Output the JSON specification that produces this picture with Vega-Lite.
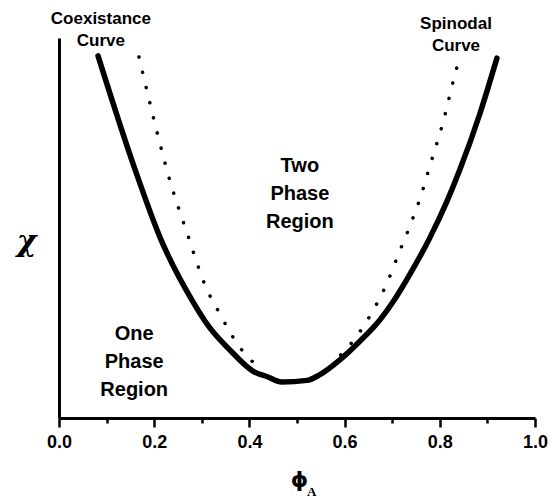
{
  "$schema": "https://vega.github.io/schema/vega-lite/v6.json",
  "width": 476,
  "height": 380,
  "autosize": "none",
  "padding": {"left": 59, "top": 38, "right": 16, "bottom": 82},
  "background": "white",
  "config": {"view": {"stroke": null}},
  "datasets": {
    "coex": [
      {"phi": 0.082, "chi": 0.953},
      {"phi": 0.160, "chi": 0.653},
      {"phi": 0.212, "chi": 0.476},
      {"phi": 0.279, "chi": 0.311},
      {"phi": 0.317, "chi": 0.237},
      {"phi": 0.359, "chi": 0.179},
      {"phi": 0.408, "chi": 0.123},
      {"phi": 0.439, "chi": 0.108},
      {"phi": 0.468, "chi": 0.095},
      {"phi": 0.521, "chi": 0.099},
      {"phi": 0.548, "chi": 0.114},
      {"phi": 0.590, "chi": 0.153},
      {"phi": 0.632, "chi": 0.202},
      {"phi": 0.674, "chi": 0.258},
      {"phi": 0.704, "chi": 0.310},
      {"phi": 0.744, "chi": 0.393},
      {"phi": 0.779, "chi": 0.474},
      {"phi": 0.815, "chi": 0.570},
      {"phi": 0.842, "chi": 0.653},
      {"phi": 0.884, "chi": 0.800},
      {"phi": 0.920, "chi": 0.947}
    ],
    "spin": [
      {"branch": "left", "phi": 0.168, "chi": 0.950},
      {"branch": "left", "phi": 0.221, "chi": 0.679},
      {"branch": "left", "phi": 0.229, "chi": 0.642},
      {"branch": "left", "phi": 0.269, "chi": 0.487},
      {"branch": "left", "phi": 0.313, "chi": 0.332},
      {"branch": "left", "phi": 0.328, "chi": 0.297},
      {"branch": "left", "phi": 0.363, "chi": 0.218},
      {"branch": "left", "phi": 0.384, "chi": 0.179},
      {"branch": "left", "phi": 0.412, "chi": 0.142},
      {"branch": "right", "phi": 0.592, "chi": 0.166},
      {"branch": "right", "phi": 0.618, "chi": 0.203},
      {"branch": "right", "phi": 0.658, "chi": 0.279},
      {"branch": "right", "phi": 0.689, "chi": 0.355},
      {"branch": "right", "phi": 0.714, "chi": 0.434},
      {"branch": "right", "phi": 0.739, "chi": 0.511},
      {"branch": "right", "phi": 0.761, "chi": 0.587},
      {"branch": "right", "phi": 0.779, "chi": 0.663},
      {"branch": "right", "phi": 0.807, "chi": 0.779},
      {"branch": "right", "phi": 0.830, "chi": 0.895},
      {"branch": "right", "phi": 0.838, "chi": 0.932}
    ],
    "curveLabels": [
      {"phi": 0.088, "chi": 1.071, "label": "Coexistance\nCurve"},
      {"phi": 0.834, "chi": 1.058, "label": "Spinodal\nCurve"}
    ],
    "regionLabels": [
      {"phi": 0.506, "chi": 0.689, "label": "Two\nPhase\nRegion"},
      {"phi": 0.158, "chi": 0.247, "label": "One\nPhase\nRegion"}
    ],
    "subscript": [
      {"phi": 0.531, "chi": -0.195, "label": "A"}
    ]
  },
  "layer": [
    {
      "data": {"name": "coex"},
      "mark": {"type": "line", "color": "black", "strokeWidth": 5.5, "strokeCap": "round", "strokeJoin": "round", "interpolate": "monotone"},
      "encoding": {
        "x": {
          "field": "phi", "type": "quantitative",
          "scale": {"domain": [0, 1], "nice": false, "zero": false},
          "axis": {
            "values": [0, 0.1, 0.2, 0.3, 0.4, 0.5, 0.6, 0.7, 0.8, 0.9, 1.0],
            "labelExpr": "round(datum.value*10) % 2 == 0 ? format(datum.value, '.1f') : ''",
            "tickSize": {"condition": {"test": "round(datum.value*10) % 2 == 0", "value": 9}, "value": 5},
            "tickWidth": 2.5,
            "tickColor": "black",
            "domainWidth": 3,
            "domainColor": "black",
            "grid": false,
            "labelFont": "Liberation Sans",
            "labelFontWeight": "bold",
            "labelFontSize": 18,
            "labelColor": "black",
            "labelPadding": 6,
            "labelFlush": false,
            "labelOverlap": false,
            "title": "ϕ",
            "titleFont": "DejaVu Sans",
            "titleFontWeight": "bold",
            "titleFontSize": 22,
            "titleColor": "black",
            "titleX": 240,
            "titleY": 61,
            "titleAlign": "center",
            "titleBaseline": "middle"
          }
        },
        "y": {
          "field": "chi", "type": "quantitative",
          "scale": {"domain": [0, 1], "nice": false, "zero": false},
          "axis": {
            "ticks": false,
            "labels": false,
            "grid": false,
            "domainWidth": 3,
            "domainColor": "black",
            "title": "χ",
            "titleFont": "DejaVu Serif",
            "titleFontWeight": "bold",
            "titleFontStyle": "italic",
            "titleFontSize": 30,
            "titleColor": "black",
            "titleAngle": 0,
            "titleX": -33,
            "titleY": 203,
            "titleAlign": "center",
            "titleBaseline": "middle"
          }
        }
      }
    },
    {
      "data": {"name": "spin"},
      "mark": {"type": "line", "color": "black", "strokeWidth": 3.5, "strokeCap": "round", "strokeDash": [0.1, 15.5], "interpolate": "monotone"},
      "encoding": {
        "x": {"field": "phi", "type": "quantitative"},
        "y": {"field": "chi", "type": "quantitative"},
        "detail": {"field": "branch"}
      }
    },
    {
      "data": {"name": "curveLabels"},
      "mark": {"type": "text", "font": "Liberation Sans", "fontWeight": "bold", "fontSize": 17, "align": "center", "baseline": "top", "lineBreak": "\n", "lineHeight": 22, "color": "black"},
      "encoding": {
        "x": {"field": "phi", "type": "quantitative"},
        "y": {"field": "chi", "type": "quantitative"},
        "text": {"field": "label"}
      }
    },
    {
      "data": {"name": "regionLabels"},
      "mark": {"type": "text", "font": "Liberation Sans", "fontWeight": "bold", "fontSize": 20, "align": "center", "baseline": "top", "lineBreak": "\n", "lineHeight": 28, "color": "black"},
      "encoding": {
        "x": {"field": "phi", "type": "quantitative"},
        "y": {"field": "chi", "type": "quantitative"},
        "text": {"field": "label"}
      }
    },
    {
      "data": {"name": "subscript"},
      "mark": {"type": "text", "font": "Liberation Serif", "fontWeight": "bold", "fontSize": 13, "align": "center", "baseline": "middle", "color": "black"},
      "encoding": {
        "x": {"field": "phi", "type": "quantitative"},
        "y": {"field": "chi", "type": "quantitative"},
        "text": {"field": "label"}
      }
    }
  ]
}
